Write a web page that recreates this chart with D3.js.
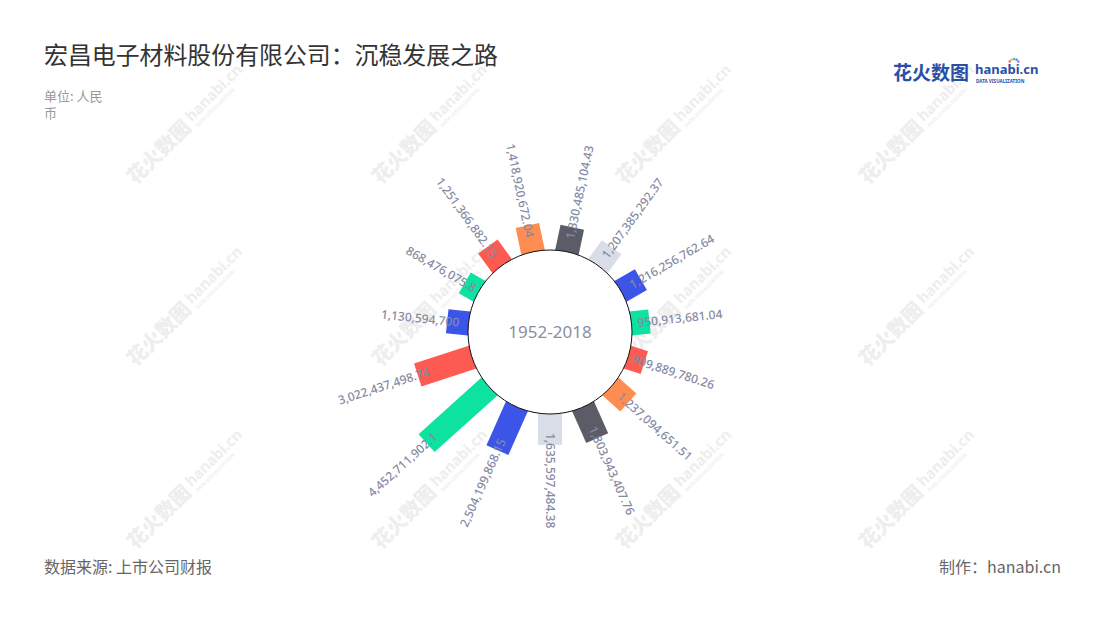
<!DOCTYPE html>
<html>
<head>
<meta charset="utf-8">
<script src="https://cdn.jsdelivr.net/npm/d3@7/dist/d3.min.js"></script>
<style>
  html, body { margin: 0; padding: 0; background: #fff; }
  svg { display: block; }
</style>
</head>
<body>
<svg id="chart" width="1100" height="620"></svg>
<script>
// ---- data (clockwise, first bar starts at 264deg from top) ----
const categories = ["b1","b2","b3","b4","b5","b6","b7","b8","b9","b10","b11","b12","b13","b14","b15"];
const values = [1130594700, 868476075.8, 1251366882.15, 1418920672.04, 1330485104.43,
                1207385292.37, 1216256762.64, 950913681.04, 909889780.26, 1237094651.51,
                1803943407.76, 1635597484.38, 2504199868.15, 4452711902.1, 3022437498.74];
const labels = ["1,130,594,700","868,476,075.8","1,251,366,882.15","1,418,920,672.04","1,330,485,104.43",
                "1,207,385,292.37","1,216,256,762.64","950,913,681.04","909,889,780.26","1,237,094,651.51",
                "1,803,943,407.76","1,635,597,484.38","2,504,199,868.15","4,452,711,902.1","3,022,437,498.74"];
const palette = ["#3a55e8", "#0ee2a0", "#fd5b52", "#fe8d52", "#5b5c67", "#d9dde7"];
const centerLabel = "1952-2018";
const title = "宏昌电子材料股份有限公司：沉稳发展之路";
const unitLines = ["单位: 人民", "币"];
const source = "数据来源: 上市公司财报";
const credit = "制作：hanabi.cn";

const svg = d3.select("#chart");
const cx = 550, cy = 332, innerR = 82;
const startAngle = 264;

// ---- watermarks ----
const wmX = [183, 428, 672, 915], wmY = [128, 310, 493];
const wm = svg.append("g").attr("class", "watermarks");
wmY.forEach(y => wmX.forEach(x => {
  const g = wm.append("g").attr("transform", `translate(${x},${y}) rotate(-45)`);
  g.append("text").attr("x", -74).attr("y", 7)
    .attr("font-family", "Noto Sans CJK SC").attr("font-weight", 900)
    .attr("font-size", 20).attr("fill", "#eeeeee").text("花火数图");
  g.append("text").attr("x", 10).attr("y", 2)
    .attr("font-family", "Noto Sans").attr("font-weight", 700)
    .attr("font-size", 15).attr("fill", "#eeeeee").text("hanabi.cn");
  g.append("text").attr("x", 11).attr("y", 10)
    .attr("font-family", "Noto Sans").attr("font-weight", 700)
    .attr("font-size", 5).attr("fill", "#f0f0f0").text("DATA VISUALIZATION");
}));

// ---- scales ----
const angle = d3.scaleBand().domain(categories).range([startAngle, startAngle + 360]).padding(0);
const radius = d3.scaleLinear().domain([0, 5e9]).range([innerR, innerR + 94.4]);
const barW = 24;

const data = categories.map((c, i) => ({c, v: values[i], label: labels[i], color: palette[i % palette.length]}));

const bars = svg.append("g").attr("transform", `translate(${cx},${cy})`);
bars.selectAll("rect").data(data).join("rect")
  .attr("transform", d => `rotate(${angle(d.c) + angle.bandwidth() / 2})`)
  .attr("x", -barW / 2)
  .attr("y", d => -radius(d.v))
  .attr("width", barW)
  .attr("height", d => radius(d.v) - 50)
  .attr("fill", d => d.color);

bars.append("circle").attr("r", innerR).attr("fill", "#fff").attr("stroke", "#111").attr("stroke-width", 1);

bars.append("text").attr("text-anchor", "middle").attr("dy", "0.35em")
  .attr("font-family", "Noto Sans").attr("font-size", 17).attr("fill", "#8c8ea4")
  .text(centerLabel);

// ---- labels ----
bars.selectAll("text.lbl").data(data).join("text").attr("class", "lbl")
  .each(function(d) {
    const th = (angle(d.c) + angle.bandwidth() / 2) % 360;
    const r = radius(d.v) - 12;
    const rad = th * Math.PI / 180;
    const x = r * Math.sin(rad), y = -r * Math.cos(rad);
    const right = th <= 180;
    const rot = right ? th - 90 : th + 90;
    d3.select(this)
      .attr("transform", `translate(${x},${y}) rotate(${rot})`)
      .attr("text-anchor", right ? "start" : "end")
      .attr("dy", "0.35em");
  })
  .attr("font-family", "Noto Sans").attr("font-size", 12).attr("font-weight", 500)
  .attr("fill", "#858aa3")
  .text(d => d.label);

// ---- titles ----
svg.append("text").attr("x", 44).attr("y", 64)
  .attr("font-family", "Noto Sans CJK SC").attr("font-size", 23.9).attr("fill", "#333")
  .text(title);
svg.append("g").selectAll("text").data(unitLines).join("text")
  .attr("x", 44).attr("y", (d, i) => 101 + i * 17)
  .attr("font-family", "Noto Sans CJK SC").attr("font-size", 13).attr("fill", "#999")
  .text(d => d);
svg.append("text").attr("x", 44).attr("y", 573)
  .attr("font-family", "Noto Sans CJK SC").attr("font-size", 16).attr("fill", "#666")
  .text(source);
svg.append("text").attr("x", 1061).attr("y", 573).attr("text-anchor", "end")
  .attr("font-family", "Noto Sans CJK SC").attr("font-size", 16).attr("fill", "#666")
  .text(credit);

// ---- logo ----
const logo = svg.append("g");
logo.append("text").attr("x", 893).attr("y", 80)
  .attr("font-family", "Noto Sans CJK SC").attr("font-weight", 700)
  .attr("font-size", 19).attr("fill", "#2b4ea6").text("花火数图");
logo.append("text").attr("x", 975).attr("y", 74)
  .attr("font-family", "Noto Sans").attr("font-weight", 700)
  .attr("font-size", 13).attr("fill", "#2b4ea6").text("hanabi.cn");
logo.append("text").attr("x", 976).attr("y", 83)
  .attr("font-family", "Noto Sans").attr("font-weight", 700)
  .attr("font-size", 4.6).attr("fill", "#2b4ea6").text("DATA VISUALIZATION");
const dotC = ["#ff5a5a", "#ffb400", "#12d6a0", "#3a7bff", "#b05cff"];
dotC.forEach((c, i) => {
  const a = (-150 + i * 30) * Math.PI / 180;
  logo.append("circle").attr("cx", 1014 + 5 * Math.cos(a)).attr("cy", 64 + 5 * Math.sin(a))
    .attr("r", 1.2).attr("fill", c);
});
</script>
</body>
</html>
